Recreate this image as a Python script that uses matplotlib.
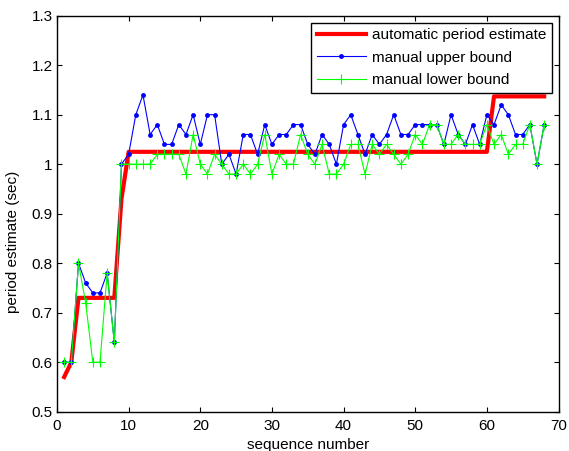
import matplotlib
matplotlib.use("Agg")
import matplotlib.pyplot as plt

plt.rcParams['font.family'] = ['Liberation Sans', 'DejaVu Sans']

seq = list(range(1, 69))

auto_est = [0.57, 0.60, 0.73, 0.73, 0.73, 0.73, 0.73, 0.73, 0.93,
            1.025, 1.025, 1.025, 1.025, 1.025, 1.025, 1.025, 1.025, 1.025, 1.025,
            1.025, 1.025, 1.025, 1.025, 1.025, 1.025, 1.025, 1.025, 1.025, 1.025,
            1.025, 1.025, 1.025, 1.025, 1.025, 1.025, 1.025, 1.025, 1.025, 1.025,
            1.025, 1.025, 1.025, 1.025, 1.025, 1.025, 1.025, 1.025, 1.025, 1.025,
            1.025, 1.025, 1.025, 1.025, 1.025, 1.025, 1.025, 1.025, 1.025, 1.025,
            1.025,
            1.137, 1.137, 1.137, 1.137, 1.137, 1.137, 1.137, 1.137]

upper = [0.60, 0.60, 0.80, 0.76, 0.74, 0.74, 0.78, 0.64,
         1.00, 1.02, 1.10, 1.14, 1.06, 1.08, 1.04, 1.04, 1.08, 1.06,
         1.10, 1.04, 1.10, 1.10, 1.00, 1.02, 0.98, 1.06, 1.06, 1.02,
         1.08, 1.04, 1.06, 1.06, 1.08, 1.08, 1.04, 1.02, 1.06, 1.04,
         1.00, 1.08, 1.10, 1.06, 1.02, 1.06, 1.04, 1.06, 1.10, 1.06,
         1.06, 1.08, 1.08, 1.08, 1.08, 1.04, 1.10, 1.06, 1.04, 1.08,
         1.04, 1.10, 1.08, 1.12, 1.10, 1.06, 1.06, 1.08, 1.00, 1.08]

lower = [0.60, 0.60, 0.80, 0.72, 0.60, 0.60, 0.78, 0.64,
         1.00, 1.00, 1.00, 1.00, 1.00, 1.02, 1.02, 1.02, 1.02, 0.98,
         1.06, 1.00, 0.98, 1.02, 1.00, 0.98, 0.98, 1.00, 0.98, 1.00,
         1.06, 0.98, 1.02, 1.00, 1.00, 1.06, 1.02, 1.00, 1.04, 0.98,
         0.98, 1.00, 1.04, 1.04, 0.98, 1.04, 1.02, 1.04, 1.02, 1.00,
         1.02, 1.06, 1.04, 1.08, 1.08, 1.04, 1.04, 1.06, 1.04, 1.04,
         1.04, 1.08, 1.04, 1.06, 1.02, 1.04, 1.04, 1.08, 1.00, 1.08]

labels = ['automatic period estimate', 'manual upper bound', 'manual lower bound']

FS = 11

fig = plt.figure(figsize=(5.69, 4.51), dpi=100)
ax = fig.add_axes([57/569, 1 - 411.7/451, 501.5/569, 396/451])

ax.plot(seq, auto_est, color=(1, 0, 0), lw=3, label=labels[0], zorder=2)
ax.plot(seq, upper, color=(0, 0, 1), lw=0.8, marker='o', ms=3.5,
        markeredgewidth=0, label=labels[1], zorder=3)
ax.plot(seq, lower, color=(0, 1, 0), lw=0.8, marker='+', ms=7,
        markeredgewidth=0.8, label=labels[2], zorder=4)

ax.set_xlim(0, 70)
ax.set_ylim(0.5, 1.3)
ax.set_xticks(range(0, 71, 10))
ax.set_yticks([0.5, 0.6, 0.7, 0.8, 0.9, 1.0, 1.1, 1.2, 1.3])
ax.set_yticklabels(['0.5', '0.6', '0.7', '0.8', '0.9', '1', '1.1', '1.2', '1.3'])
ax.tick_params(direction='in', length=3.5, width=0.8, top=True, right=True,
               labelsize=FS, colors='black')
ax.tick_params(axis='x', pad=5)
ax.tick_params(axis='y', pad=3)
for s in ax.spines.values():
    s.set_linewidth(1.0)

ax.set_xlabel('sequence number', fontsize=FS, labelpad=4)
ax.set_ylabel('period estimate (sec)', fontsize=FS)
ax.yaxis.set_label_coords(-0.0738, 0.4285)

leg = ax.legend(loc='upper right', bbox_to_anchor=(0.9865, 0.9823),
                borderaxespad=0, fancybox=False, framealpha=1, edgecolor='black',
                fontsize=FS, handlelength=3.2, handletextpad=0.4,
                labelspacing=0.55, borderpad=0.36)
leg.get_frame().set_linewidth(1.0)

fig.savefig('out.png', dpi=100)
